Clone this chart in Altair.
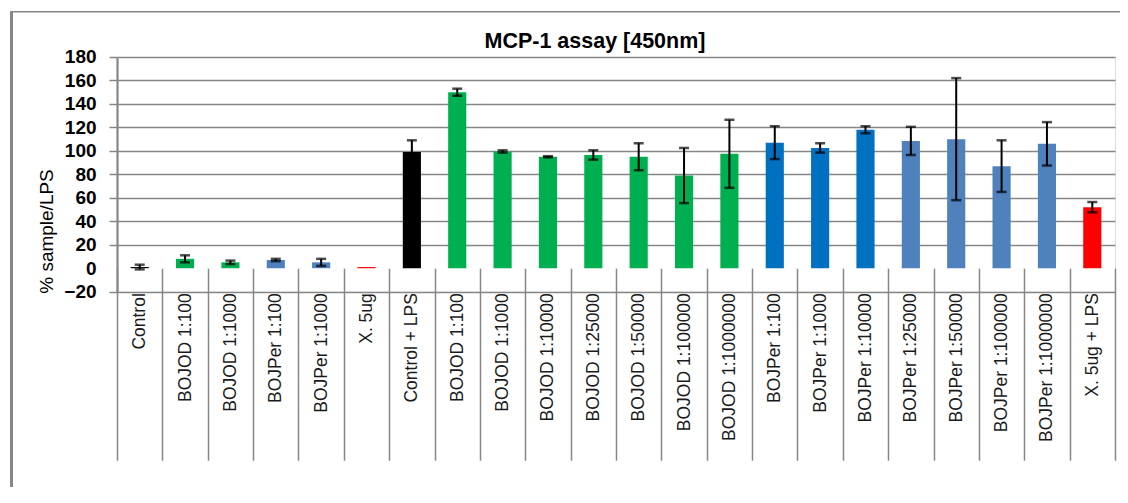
import json
import altair as alt
import pandas as pd

labels = [
    "Control", "BOJOD 1:100", "BOJOD 1:1000", "BOJPer 1:100", "BOJPer 1:1000",
    "X. 5ug", "Control + LPS", "BOJOD 1:100", "BOJOD 1:1000", "BOJOD 1:10000",
    "BOJOD 1:25000", "BOJOD 1:50000", "BOJOD 1:100000", "BOJOD 1:1000000",
    "BOJPer 1:100", "BOJPer 1:1000", "BOJPer 1:10000", "BOJPer 1:25000",
    "BOJPer 1:50000", "BOJPer 1:100000", "BOJPer 1:1000000", "X. 5ug + LPS",
]
values = [1, 8, 5, 7, 5, 1, 99, 150, 99.5, 95, 96.5, 95, 79, 97.5,
          107, 102.5, 118, 108.5, 110, 87, 106, 52]
errors = [2, 3, 1.5, 1, 3, 0, 10, 3, 1, 0.5, 4, 11.5, 23.5, 29,
          14, 4, 3, 12, 52, 22, 18.5, 4.4]
groups = ["Control", "BOJOD", "BOJOD", "BOJPer", "BOJPer", "X", "Control",
          "BOJOD", "BOJOD", "BOJOD", "BOJOD", "BOJOD", "BOJOD", "BOJOD",
          "BOJPer LPS", "BOJPer LPS", "BOJPer LPS", "BOJPer", "BOJPer",
          "BOJPer", "BOJPer", "X"]
group_names = ["Control", "BOJOD", "BOJPer", "BOJPer LPS", "X"]
group_colors = ["#000000", "#00B050", "#4F81BD", "#0070C0", "#FF0000"]
title_text = "MCP-1 assay [450nm]"

df = pd.DataFrame({
    "idx": list(range(len(labels))),
    "value": values,
    "err": errors,
    "group": groups,
})
df["lo"] = df["value"] - df["err"]
df["hi"] = df["value"] + df["err"]
err_df = df[df["err"] > 0]

GRID = "#868686"
FONT = "Liberation Sans"
label_expr = json.dumps(labels) + "[datum.value]"

x_axis = alt.Axis(
    title=None, labelExpr=label_expr, labelAngle=270, labelFontSize=17.5,
    labelFont=FONT, labelColor="#1a1a1a", labelOverlap=False,
    tickBand="extent", tickSize=192, tickColor=GRID, tickWidth=1.5,
    domain=False, grid=False, offset=-23.5, labelPadding=-167.5,
)
x_enc = alt.X("idx:O", scale=alt.Scale(paddingInner=0, paddingOuter=0), axis=x_axis)

zero_hide = {"condition": {"test": "datum.value === 0", "value": 0}, "value": 1}
y_axis = alt.Axis(
    values=list(range(-20, 181, 20)), grid=True, gridColor=GRID, gridWidth=1.5,
    gridOpacity=zero_hide, tickSize=8, tickColor=GRID, tickWidth=1.5,
    tickOpacity=zero_hide, domainColor=GRID, domainWidth=2.2,
    labelFontSize=19, labelFontWeight="bold", labelFont=FONT, labelColor="black",
    labelPadding=13,
    title="% sample/LPS", titleX=-71, titleY=174, titleFontSize=19,
    titleFontWeight="normal", titleFont=FONT, titleAngle=270,
    titleAlign="center", titleBaseline="middle", titleColor="black",
)
y_scale = alt.Scale(domain=[-20, 180], nice=False)

bars = alt.Chart(df).mark_bar(width=alt.RelativeBandSize(0.4)).encode(
    x=x_enc,
    y=alt.Y("value:Q", scale=y_scale, axis=y_axis),
    color=alt.Color("group:N", scale=alt.Scale(domain=group_names, range=group_colors), legend=None),
)
rules = alt.Chart(err_df).mark_rule(color="black", strokeWidth=2).encode(
    x=x_enc,
    y=alt.Y("lo:Q", scale=y_scale, axis=y_axis),
    y2="hi:Q",
)
cap_lo = alt.Chart(err_df).mark_tick(color="black", size=10, thickness=2.5).encode(
    x=x_enc, y=alt.Y("lo:Q", scale=y_scale, axis=y_axis),
)
cap_hi = alt.Chart(err_df).mark_tick(color="black", size=10, thickness=2.5).encode(
    x=x_enc, y=alt.Y("hi:Q", scale=y_scale, axis=y_axis),
)
frame_df = pd.DataFrame({"k": [0]})
frame_left = alt.Chart(frame_df).mark_rule(color=GRID, strokeWidth=3).encode(
    x=alt.value(-105.5), y=alt.value(-45.3), y2=alt.value(500),
)
frame_top = alt.Chart(frame_df).mark_rule(color=GRID, strokeWidth=1.5).encode(
    x=alt.value(-107), x2=alt.value(1020), y=alt.value(-45.3),
)
title_df = pd.DataFrame({"t": [title_text]})
title = alt.Chart(title_df).mark_text(
    fontSize=21.5, fontWeight="bold", font=FONT, align="center",
    baseline="alphabetic", color="black",
).encode(text="t:N", x=alt.value(478), y=alt.value(-8.7))

chart = alt.layer(bars, rules, cap_lo, cap_hi, frame_left, frame_top, title).properties(
    width=998, height=234.7, autosize="none",
    padding={"left": 109, "top": 49, "right": 5, "bottom": 195},
).configure_view(stroke=None).configure(background="white")

chart.save("out.html", embed_options={"renderer": "svg", "actions": False})
